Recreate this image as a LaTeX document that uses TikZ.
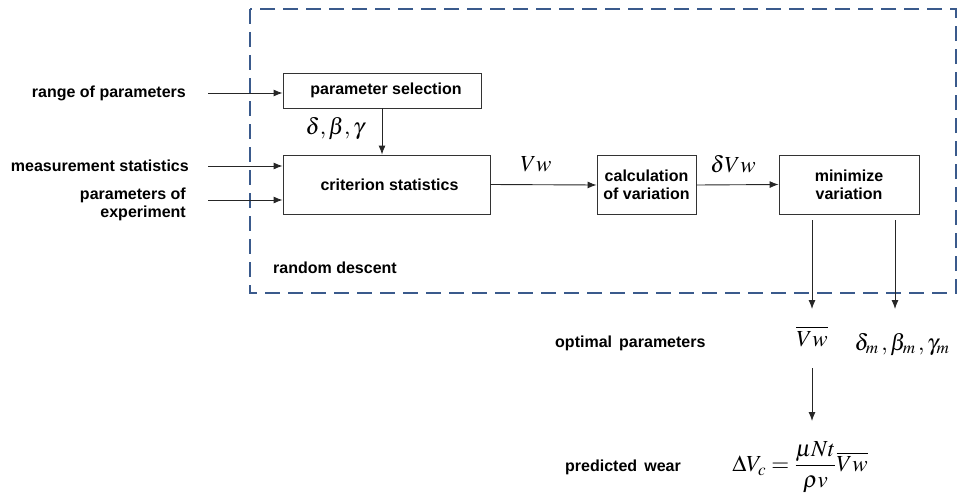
\documentclass[tikz,border=0pt]{standalone}
\usepackage{amsmath}
\usepackage{mathptmx}
\usepackage[no-math]{fontspec}
\setmainfont{Liberation Sans}
\usepackage{tikz}
\usetikzlibrary{arrows.meta}
\definecolor{framecol}{RGB}{58,90,140}
\tikzstyle{blk}=[draw=black!80, line width=0.9pt, rectangle, align=center, inner sep=1pt, font=\bfseries\fontsize{16}{18}\selectfont]
\tikzstyle{lbl}=[font=\bfseries\fontsize{16}{18}\selectfont, inner sep=0pt]
\tikzstyle{mth}=[font=\fontsize{23}{25}\selectfont, inner sep=0pt]
\tikzstyle{arr}=[-{Latex[length=9pt,width=7pt]}, black!85, line width=0.9pt]
\newcommand{\blk}{\node[blk]}

\begin{document}
\begin{tikzpicture}[x=1pt,y=-1pt]
	\useasboundingbox (0,0) rectangle (960,495);
	% random descent frame
	\draw[framecol, line width=2.8pt, dash pattern=on 15pt off 8pt] (250,9) rectangle (956,293);
	\node[lbl, anchor=west] (rd) at (273,268) {random descent};
	% blocks
	\blk[minimum width=198pt, minimum height=35pt](sel) at (382,90.5) {\hspace{8pt}parameter selection};
	\blk[minimum width=207pt, minimum height=59pt](crit) at (386.5,184.5) {\hspace{6pt}criterion statistics};
	\blk[minimum width=99pt, minimum height=59pt](calc) at (646.5,185) {calculation\\of variation};
	\blk[minimum width=140pt, minimum height=59pt](mini) at (849,184.5) {minimize\\variation};
	% inputs
	\node[lbl, anchor=east] (rng) at (186,93) {range of parameters};
	\node[lbl, anchor=east] (meas) at (189,166) {measurement statistics};
	\node[lbl, anchor=east, align=right] (exp) at (186,204) {parameters of\\experiment};
	\coordinate (in1) at (208,93);
	\coordinate (in2) at (208,166);
	\coordinate (in3) at (208,200);
	\draw[arr] (in1) -- (in1 -| sel.west);
	\draw[arr] (in2) -- (in2 -| crit.west);
	\draw[arr] (in3) -- (in3 -| crit.west);
	% chain
	\draw[arr] (sel.south) -- (sel.south |- crit.north);
	\node[mth] (dbg) at (335,129) {$\delta,\beta,\gamma$};
	\draw[arr] (crit.east) -- (calc.west);
	\node[mth] (vw) at (536,164) {$Vw$};
	\draw[arr] (calc.east) -- (mini.west);
	\node[mth] (dvw) at (733,164) {$\delta Vw$};
	% outputs
	\node[mth, anchor=base] (vwbar) at (812,346) {$\overline{Vw}$};
	\node[mth, anchor=base] (par) at (902,350) {$\delta_m\,,\beta_m\,,\gamma_m$};
	\coordinate (o1) at (812,220);
	\coordinate (o2) at (895,220);
	\coordinate (e1) at (812,309);
	\coordinate (e2) at (895,309);
	\draw[arr] (o1) -- (e1);
	\draw[arr] (o2) -- (e2);
	\node[lbl, anchor=west] (opt) at (555,343) {optimal\, parameters};
	\node[mth] (wear) at (800,467) {$\Delta V_c=\dfrac{\mu Nt}{\rho v}\overline{Vw}$};
	\coordinate (o3) at (812,368);
	\coordinate (e3) at (812,421);
	\draw[arr] (o3) -- (e3);
	\node[lbl, anchor=west] (pw) at (565,467) {predicted\, wear};
\end{tikzpicture}
\end{document}
